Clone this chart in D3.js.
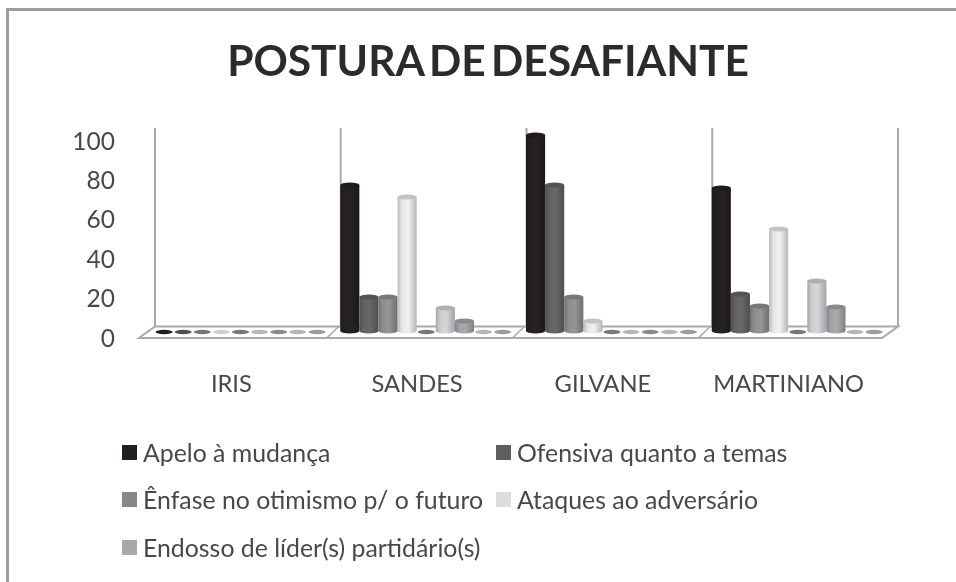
<!DOCTYPE html>
<html>
<head>
<meta charset="utf-8">
<script src="https://cdn.jsdelivr.net/npm/d3@7/dist/d3.min.js"></script>
<style>
html,body{margin:0;padding:0;background:#fff;}
svg{display:block;filter:blur(0.7px);}
text{font-family:Lato,"Open Sans",sans-serif;}
</style>
</head>
<body>
<svg id="chart" width="956" height="582"></svg>
<script>
const titleText = "POSTURA DE DESAFIANTE";
const categories = ["IRIS", "SANDES", "GILVANE", "MARTINIANO"];
const yTicks = [0, 20, 40, 60, 80, 100];
const seriesNames = ["Apelo à mudança", "Ofensiva quanto a temas", "Ênfase no otimismo p/ o futuro", "Ataques ao adversário", "Endosso de líder(s) partidário(s)", "s6", "s7", "s8", "s9"];
const seriesColors = ["#231f20", "#5f5f61", "#88888a", "#dcdddf", "#a8a9ab", "#c4c5c7", "#9b9c9e", "#c9cacc", "#a9aaac"];
const zeroColors = ["#231f20", "#4f4f51", "#77777a", "#d0d1d3", "#77777a", "#b5b6b8", "#8a8b8d", "#b5b6b8", "#9a9b9d"];
const legendItems = [0, 1, 2, 3, 4];
const irisValues = [0, 0, 0, 0, 0, 0, 0, 0, 0];
const sandesValues = [75, 19, 19, 69, 0, 13.5, 7, 0, 0];
const gilvaneValues = [100, 75, 19, 7, 0, 0, 0, 0, 0];
const martinianoValues = [73.5, 20.5, 14.5, 53, 0, 27, 14, 0, 0];
const allValues = [irisValues, sandesValues, gilvaneValues, martinianoValues];

const svg = d3.select("#chart");
const defs = svg.append("defs");

// photo frame
svg.append("path").attr("d", "M7.5,582V9.5H956").attr("fill", "none").attr("stroke", "#9d9d9f").attr("stroke-width", 3);

svg.append("text").attr("x", 488).attr("y", 76).attr("text-anchor", "middle")
  .attr("font-size", 42.5).attr("font-weight", 700).attr("word-spacing", -5).attr("fill", "#2b2b2d").text(titleText);

// scales
const x = d3.scaleBand().domain(categories).range([155, 898]);
const xs = d3.scaleBand().domain(d3.range(9)).range([0, 172]);
const y = d3.scaleLinear().domain([0, 100]).range([335, 135]);
const yLabel = d3.scaleLinear().domain([0, 100]).range([338, 141]);
const floorBack = 326.5, floorFront = 338, skew = 16;
const wallTop = 128, barFoot = 331;

const wallColor = "#a9aaac";
// back walls
x.domain().concat(["end"]).forEach((c, i) => {
  const wx = i < 4 ? x(c) : x.range()[1];
  svg.append("line").attr("x1", wx).attr("x2", wx).attr("y1", wallTop).attr("y2", floorBack)
    .attr("stroke", wallColor).attr("stroke-width", 2);
});
// floor
const fl = x.range()[0], fr = x.range()[1];
svg.append("path").attr("d", `M${fl},${floorBack}H${fr}L${fr - skew},${floorFront}H${fl - skew}Z`)
  .attr("fill", "#fff").attr("stroke", wallColor).attr("stroke-width", 2);
categories.slice(1).forEach(c => {
  svg.append("line").attr("x1", x(c) - 2).attr("x2", x(c) - 14).attr("y1", floorBack).attr("y2", floorFront)
    .attr("stroke", wallColor).attr("stroke-width", 1.6);
});

// gradients per series
seriesColors.forEach((col, i) => {
  const c = d3.color(col);
  const g = defs.append("linearGradient").attr("id", "g" + i);
  g.append("stop").attr("offset", "0").attr("stop-color", c.darker(0.5));
  g.append("stop").attr("offset", "0.22").attr("stop-color", c.brighter(0.1));
  g.append("stop").attr("offset", "0.55").attr("stop-color", c.brighter(0.25));
  g.append("stop").attr("offset", "1").attr("stop-color", c.darker(0.55));
});

// bars
const barG = svg.append("g");
categories.forEach((cat, ci) => {
  const group = barG.append("g").attr("transform", `translate(${x(cat) - 0.5},0)`);
  const items = allValues[ci].map((v, i) => ({v, i}));
  const rx = xs.bandwidth() / 2;
  const ry = 2.5;
  group.selectAll("g.bar").data(items).join("g").attr("class", "bar").each(function(d) {
    const g = d3.select(this);
    const cx = xs(d.i) + xs.bandwidth() / 2;
    const top = y(d.v);
    if (d.v > 0) {
      g.append("path")
        .attr("d", `M${cx - rx},${top}V${barFoot}A${rx},${ry} 0 0 0 ${cx + rx},${barFoot}V${top}Z`)
        .attr("fill", `url(#g${d.i})`);
      g.append("ellipse").attr("cx", cx).attr("cy", top).attr("rx", rx).attr("ry", ry)
        .attr("fill", d3.color(seriesColors[d.i]).darker(0.35));
    } else {
      g.append("ellipse").attr("cx", cx).attr("cy", barFoot + 1).attr("rx", rx - 1).attr("ry", 2.2)
        .attr("fill", zeroColors[d.i]);
    }
  });
});

// y axis labels
svg.append("g").selectAll("text").data(yTicks).join("text")
  .attr("x", 115).attr("y", d => yLabel(d) + 8.5).attr("text-anchor", "end")
  .attr("font-size", 24.5).attr("fill", "#48484a").text(d => d);

// x labels
svg.append("g").selectAll("text").data(categories).join("text")
  .attr("x", (d, i) => x(d) + x.bandwidth() / 2 - 16.5)
  .attr("y", 392).attr("text-anchor", "middle")
  .attr("font-size", 23.7).attr("fill", "#48484a").text(d => d);

// legend
const legendCols = [122, 496];
const legendRows = [453, 500, 548];
legendItems.forEach(i => {
  const col = legendCols[i % 2], row = legendRows[Math.floor(i / 2)];
  svg.append("rect").attr("x", col).attr("y", row - 8).attr("width", 15).attr("height", 15)
    .attr("fill", seriesColors[i]);
  svg.append("text").attr("x", col + 21).attr("y", row + 8.5)
    .attr("font-size", 24.85).attr("fill", "#48484a").text(seriesNames[i]);
});
</script>
</body>
</html>
